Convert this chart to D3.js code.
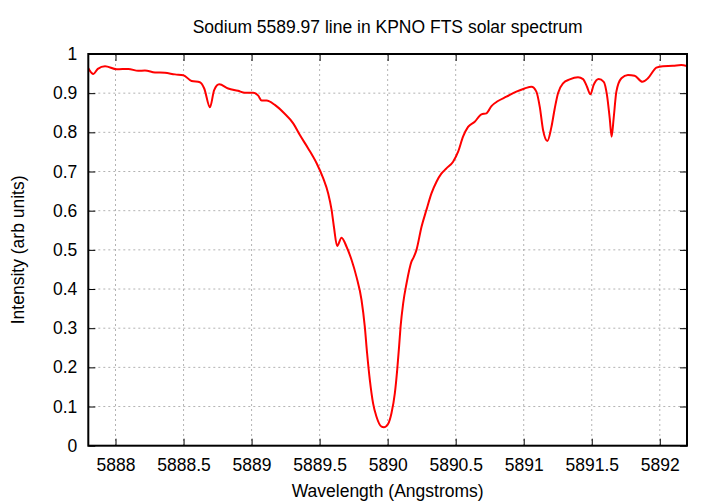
<!DOCTYPE html>
<html><head><meta charset="utf-8">
<script src="https://cdn.jsdelivr.net/npm/d3@7"></script>
<style>body{margin:0;background:#fff}svg{display:block}text{font-family:"Liberation Sans",Arial,sans-serif}</style>
</head><body><div id="chart"></div>
<script>
const wavelength = [5887.800,5887.837,5887.870,5887.923,5888.009,5888.094,5888.167,5888.216,5888.290,5888.363,5888.437,5888.498,5888.559,5888.620,5888.652,5888.694,5888.725,5888.762,5888.828,5888.900,5888.951,5889.012,5889.049,5889.074,5889.110,5889.171,5889.240,5889.306,5889.355,5889.416,5889.478,5889.526,5889.563,5889.588,5889.605,5889.629,5889.661,5889.698,5889.735,5889.771,5889.808,5889.832,5889.849,5889.869,5889.893,5889.918,5889.955,5889.972,5890.003,5890.028,5890.053,5890.070,5890.084,5890.095,5890.114,5890.139,5890.175,5890.190,5890.212,5890.249,5890.285,5890.322,5890.359,5890.396,5890.432,5890.481,5890.518,5890.554,5890.591,5890.640,5890.689,5890.726,5890.763,5890.811,5890.873,5890.946,5891.007,5891.057,5891.093,5891.118,5891.142,5891.174,5891.203,5891.228,5891.252,5891.289,5891.338,5891.399,5891.436,5891.465,5891.490,5891.514,5891.551,5891.588,5891.612,5891.632,5891.646,5891.661,5891.681,5891.718,5891.766,5891.815,5891.872,5891.913,5891.975,5892.023,5892.097,5892.158,5892.200];
const intensity = [0.9635,0.949,0.962,0.9686,0.961,0.962,0.957,0.958,0.953,0.952,0.948,0.946,0.931,0.928,0.912,0.864,0.908,0.9226,0.912,0.906,0.901,0.901,0.8936,0.881,0.881,0.870,0.8486,0.823,0.793,0.759,0.721,0.683,0.644,0.602,0.559,0.510,0.531,0.508,0.474,0.431,0.372,0.304,0.236,0.168,0.108,0.074,0.0485,0.047,0.0554,0.0827,0.134,0.193,0.253,0.304,0.3635,0.4146,0.4697,0.480,0.500,0.559,0.602,0.644,0.674,0.695,0.708,0.725,0.7506,0.789,0.814,0.827,0.846,0.8486,0.867,0.880,0.891,0.904,0.912,0.9165,0.904,0.865,0.806,0.778,0.8126,0.861,0.8997,0.925,0.935,0.9405,0.936,0.9165,0.897,0.921,0.936,0.929,0.895,0.836,0.789,0.836,0.904,0.938,0.9464,0.9446,0.929,0.938,0.965,0.969,0.970,0.972,0.969];
const xTicks = [5888,5888.5,5889,5889.5,5890,5890.5,5891,5891.5,5892];
const yTicks = [0,0.1,0.2,0.3,0.4,0.5,0.6,0.7,0.8,0.9,1];
const xDomain = [5887.8,5892.2];
const yDomain = [0,1];
const title = "Sodium 5589.97 line in KPNO FTS solar spectrum";
const xLabel = "Wavelength (Angstroms)";
const yLabel = "Intensity (arb units)";

const W=720,H=504,m={l:88.3,r:33,t:54,b:58.3};
const FS=17.5;
const svg=d3.select("#chart").append("svg").attr("width",W).attr("height",H);
const x=d3.scaleLinear().domain(xDomain).range([m.l,W-m.r]);
const y=d3.scaleLinear().domain(yDomain).range([H-m.b,m.t]);
const pw=W-m.l-m.r, ph=H-m.t-m.b;

// grid
const g=svg.append("g");
g.selectAll(".gx").data(xTicks).join("line")
 .attr("x1",d=>x(d)).attr("x2",d=>x(d)).attr("y1",m.t).attr("y2",H-m.b)
 .attr("stroke","#a0a0a0").attr("stroke-width",0.8).attr("stroke-dasharray","2,3");
g.selectAll(".gy").data(yTicks.filter(d=>d>0&&d<1)).join("line")
 .attr("x1",m.l).attr("x2",W-m.r).attr("y1",d=>y(d)).attr("y2",d=>y(d))
 .attr("stroke","#a0a0a0").attr("stroke-width",0.8).attr("stroke-dasharray","2,3");

// axes (inward ticks, mirrored)
const fmt=d3.format("");
const ax=svg.append("g").attr("transform",`translate(0,${H-m.b})`)
 .call(d3.axisBottom(x).tickValues(xTicks).tickSizeInner(-7).tickSizeOuter(0).tickPadding(13).tickFormat(fmt));
const axT=svg.append("g").attr("transform",`translate(0,${m.t})`)
 .call(d3.axisTop(x).tickValues(xTicks).tickSizeInner(-7).tickSizeOuter(0).tickFormat(""));
const ay=svg.append("g").attr("transform",`translate(${m.l},0)`)
 .call(d3.axisLeft(y).tickValues(yTicks).tickSizeInner(-7).tickSizeOuter(0).tickPadding(11).tickFormat(fmt));
const ayR=svg.append("g").attr("transform",`translate(${W-m.r},0)`)
 .call(d3.axisRight(y).tickValues(yTicks).tickSizeInner(-7).tickSizeOuter(0).tickFormat(""));
[ax,axT,ay,ayR].forEach(a=>{a.select(".domain").remove();a.selectAll(".tick line").attr("stroke","#000").attr("stroke-width",1);
 a.selectAll("text").attr("font-size",FS).attr("fill","#000").attr("font-family","'Liberation Sans',Arial,sans-serif");});

// line
svg.append("clipPath").attr("id","clip").append("rect").attr("x",m.l).attr("y",m.t).attr("width",pw).attr("height",ph);
const pts=wavelength.map((w,i)=>[w,intensity[i]]);
svg.append("path").datum(pts).attr("clip-path","url(#clip)")
 .attr("d",d3.line().x(d=>x(d[0])).y(d=>y(d[1])).curve(d3.curveMonotoneX))
 .attr("fill","none").attr("stroke","#ff0000").attr("stroke-width",2);

// border
svg.append("rect").attr("x",m.l).attr("y",m.t).attr("width",pw).attr("height",ph)
 .attr("fill","none").attr("stroke","#000").attr("stroke-width",2);

svg.append("text").attr("x",m.l+pw/2).attr("y",33).attr("text-anchor","middle").attr("font-size",FS).text(title);
svg.append("text").attr("x",m.l+pw/2).attr("y",497).attr("text-anchor","middle").attr("font-size",FS).text(xLabel);
svg.append("text").attr("transform",`translate(24,${m.t+ph/2}) rotate(-90)`).attr("text-anchor","middle").attr("font-size",FS).text(yLabel);
</script></body></html>
